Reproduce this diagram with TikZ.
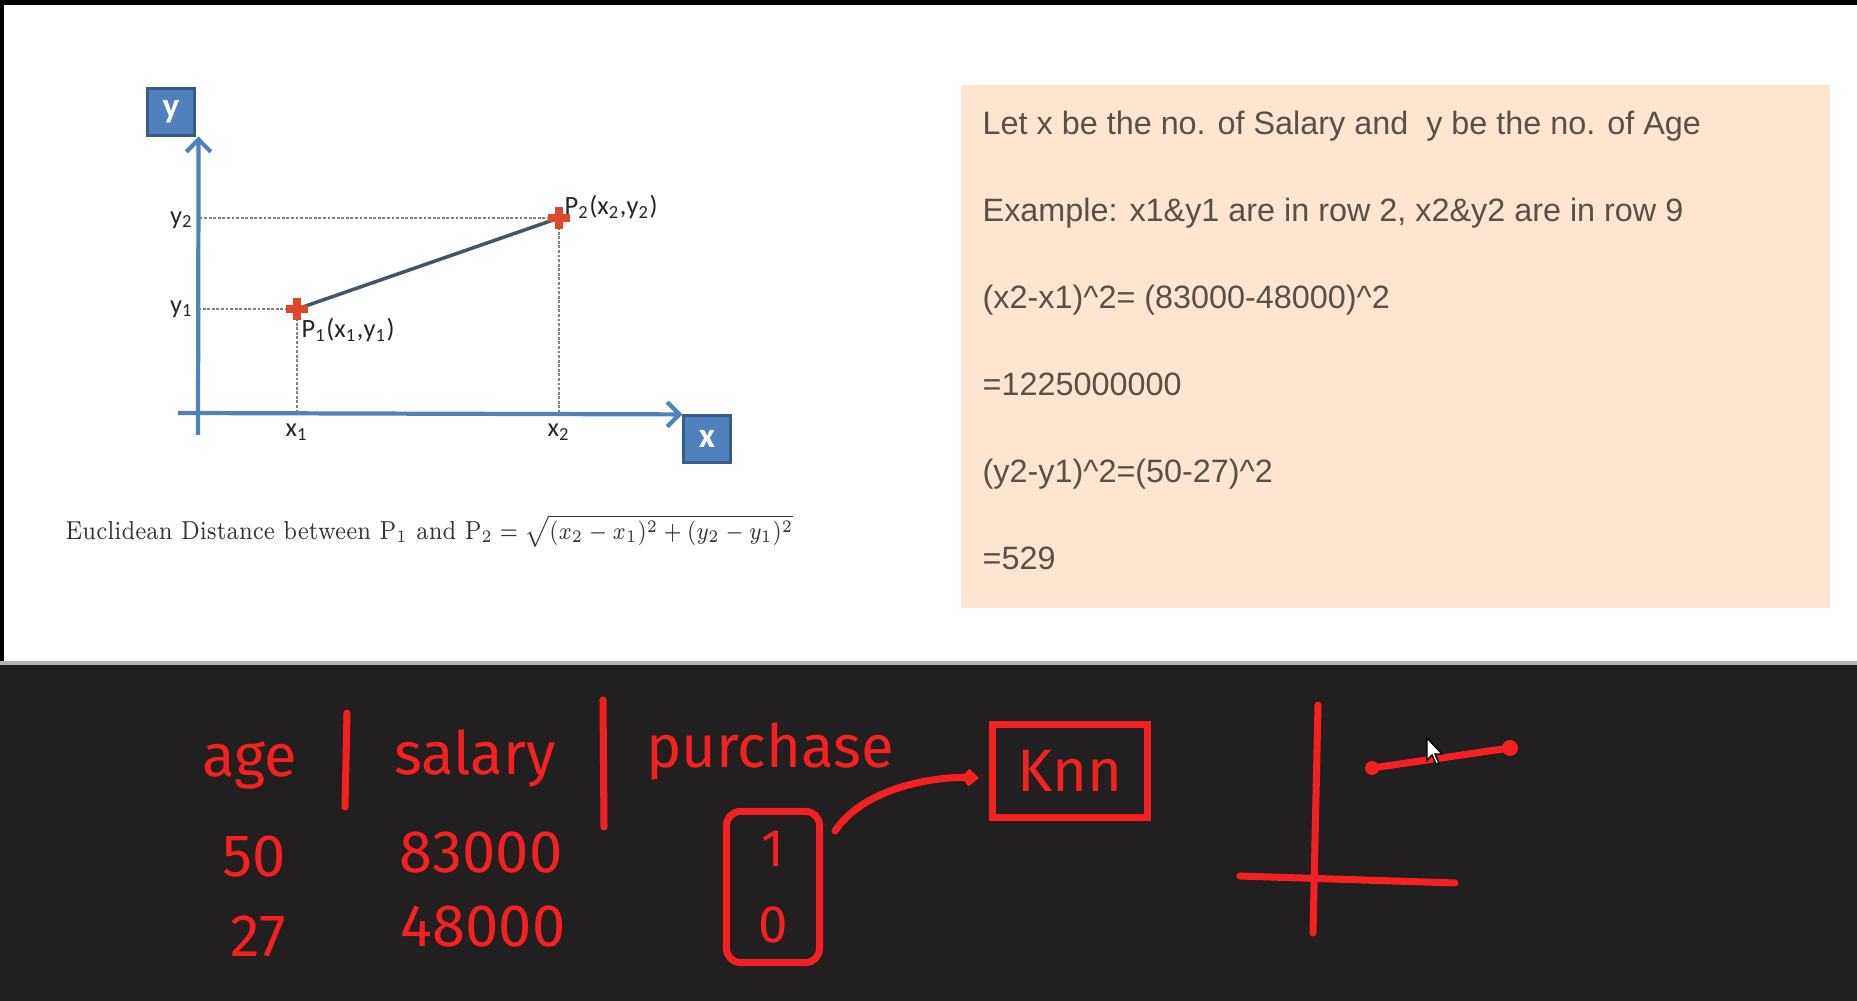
\documentclass[tikz,border=0pt]{standalone}
\usepackage{amsmath, amssymb}
\usepackage{fontspec}
\usetikzlibrary{shapes,arrows.meta,positioning,calc}

\newfontfamily\slidefont{Liberation Sans}
\newfontfamily\calfont{Carlito}
\newfontfamily\inkfont{Fira Sans}

\definecolor{slideblue}{RGB}{79,129,189}
\definecolor{boxedge}{RGB}{56,93,138}
\definecolor{segblue}{RGB}{68,84,106}
\definecolor{ptred}{RGB}{222,72,42}
\definecolor{peach}{RGB}{252,230,209}
\definecolor{notegray}{RGB}{88,80,74}
\definecolor{board}{RGB}{33,31,31}
\definecolor{inkred}{RGB}{245,32,32}

\begin{document}
\begin{tikzpicture}[x=0.01cm, y=-0.01cm,
    axis/.style={slideblue, line width=1.2pt, -{Straight Barb[length=3.5pt,width=7pt]}},
    axisbox/.style={draw=boxedge, fill=slideblue, text=white, line width=0.6pt,
        minimum size=0.47cm, inner sep=0pt, font=\calfont\bfseries\fontsize{10}{10}\selectfont},
    guide/.style={gray, line width=0.5pt, dash pattern=on 0.8pt off 0.5pt},
    segline/.style={segblue, line width=1pt},
    ptmark/.style={cross out, draw=ptred, line width=2pt, minimum size=0.08cm,
        inner sep=0pt, rotate=45},
    ticklab/.style={inner sep=0pt, text={black!85}, font=\calfont\fontsize{7.5}{9}\selectfont},
    notetext/.style={anchor=base west, inner sep=0pt, text=notegray,
        font=\slidefont\fontsize{9.2}{11}\selectfont},
    inkword/.style={anchor=base, inner sep=0pt, text=inkred,
        font=\inkfont\fontsize{17}{21.5}\selectfont},
    inkbox/.style={draw=inkred, line width=2pt, text=inkred, inner sep=0pt,
        font=\inkfont\fontsize{15}{21.5}\selectfont},
    stroke/.style={draw=inkred, line width=2pt, line cap=round, line join=round}]

    \useasboundingbox (0,0) rectangle (1857,1001);

    % Slide and board
    \fill[white] (0,0) rectangle (1857,663);
    \fill[black] (0,0) rectangle (1857,5);
    \fill[black] (0,0) rectangle (4,663);
    \fill[board] (0,663) rectangle (1857,1001);
    \draw[gray!60, line width=1pt] (0,663) -- (1857,663);

    % Axis boxes
    \node[axisbox] (ybox) at (171,112) {y};
    \node[axisbox] (xbox) at (707,439) {x};

    % Axes
    \coordinate (O) at (198,413);
    \draw[axis] (198,435) -- ([xshift=0.03cm]ybox.south east);
    \draw[axis] (178,413) -- (xbox.north west);

    % Points and guide lines
    \coordinate (c1) at (297,309);
    \coordinate (c2) at (559,218);
    \draw[guide] (c2) -- (c2 -| O);
    \draw[guide] (c2) -- (c2 |- O);
    \draw[guide] (c1) -- (c1 -| O);
    \draw[guide] (c1) -- (c1 |- O);
    \draw[segline] (c1) -- (c2);
    \node[ptmark] (p1) at (c1) {};
    \node[ptmark] (p2) at (c2) {};

    % Tick labels
    \node[ticklab, anchor=east] (y2lab) at (194,220) {y\textsubscript{2}};
    \node[ticklab, anchor=east] (y1lab) at (194,309) {y\textsubscript{1}};
    \node[ticklab] (x1lab) at (297,432) {x\textsubscript{1}};
    \node[ticklab] (x2lab) at (559,432) {x\textsubscript{2}};
    \node[ticklab, anchor=west] (p1lab) at (301,330) {P\textsubscript{1}(x\textsubscript{1},y\textsubscript{1})};
    \node[ticklab, anchor=west] (p2lab) at (564,207) {P\textsubscript{2}(x\textsubscript{2},y\textsubscript{2})};

    % Formula
    \node[anchor=west, inner sep=0pt, text={black!80}, font=\fontsize{7.4}{9}\selectfont] (eq) at (65,531)
        {\scalebox{0.84}[1]{Euclidean Distance between P$_1$ and P$_2=\sqrt{(x_2-x_1)^2+(y_2-y_1)^2}$}};

    % Notes panel
    \fill[peach] (961,85) rectangle (1830,608);
    \node[notetext] (line1) at (982,135) {Let x be the no. of Salary and\ \ y be the no. of Age};
    \node[notetext] (line2) at (982,222) {Example: x1\&y1 are in row 2, x2\&y2 are in row 9};
    \node[notetext] (line3) at (982,309) {(x2-x1)\^{}2= (83000-48000)\^{}2};
    \node[notetext] (line4) at (982,396) {=1225000000};
    \node[notetext] (line5) at (982,483) {(y2-y1)\^{}2=(50-27)\^{}2};
    \node[notetext] (line6) at (982,570) {=529};

    % Handwritten table
    \node[inkword] (age) at (250,777) {age};
    \node[inkword] (salary) at (475,775) {salary};
    \node[inkword] (purchase) at (770,768) {purchase};
    \node[inkword] (age1) at (254,877) {50};
    \node[inkword] (sal1) at (481,873) {83000};
    \node[inkword] (age2) at (258,957) {27};
    \node[inkword] (sal2) at (483,947) {48000};
    \draw[stroke] (347,713) -- (345,807);
    \draw[stroke] (603,700) -- (604,827);

    % Label column into Knn
    \node[inkbox, rounded corners=0.14cm, minimum width=0.93cm, minimum height=1.51cm, align=center] (col) at (773,887) {1\\0};
    \node[inkbox, minimum width=1.55cm, minimum height=0.93cm, font=\inkfont\fontsize{17}{21}\selectfont] (knn) at (1070,771) {Knn};
    \draw[stroke, -{Straight Barb[length=2pt,width=3.5pt]}] ([xshift=0.12cm, yshift=-0.23cm]col.north east)
        .. controls +(0.3cm,0.45cm) and +(-0.4cm,0.02cm) .. ([xshift=-0.1cm, yshift=-0.07cm]knn.west);

    % Sketch of axes and a segment
    \coordinate (vtop) at (1318,705);
    \coordinate (vbot) at (1313,933);
    \coordinate (hleft) at (1240,876);
    \coordinate (hright) at (1455,883);
    \coordinate (sa) at (1372,768);
    \coordinate (sb) at (1510,748);
    \draw[stroke] (vtop) -- (vbot);
    \draw[stroke] (hleft) -- (hright);
    \draw[stroke] (sa) -- (sb);
    \fill[inkred] (sa) circle (0.07cm);
    \fill[inkred] (sb) circle (0.08cm);

    % Mouse pointer
    \begin{scope}[shift={(1427,738)}]
        \filldraw[fill=white, draw=black, line width=0.4pt] (0,0) -- (0,22) -- (5,17) -- (9,26) -- (12,25) -- (8,16) -- (15,16) -- cycle;
    \end{scope}
\end{tikzpicture}
\end{document}
